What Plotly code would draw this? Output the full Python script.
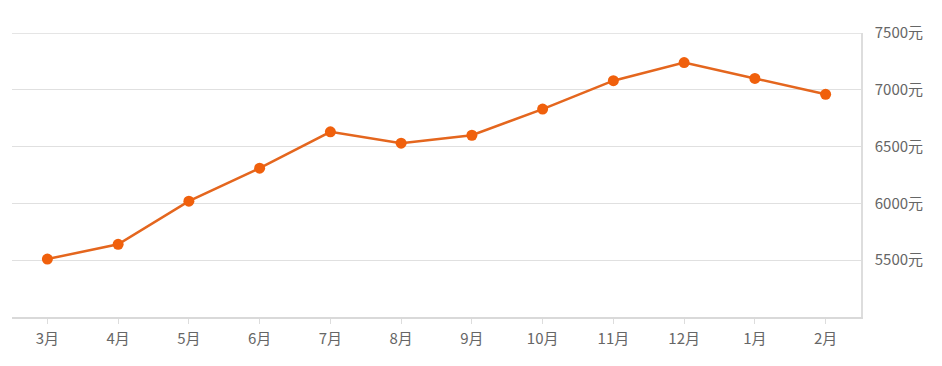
import plotly.graph_objects as go

months = ["3月", "4月", "5月", "6月", "7月", "8月", "9月", "10月", "11月", "12月", "1月", "2月"]
prices = [5510, 5640, 6020, 6310, 6630, 6530, 6600, 6830, 7080, 7240, 7100, 6960]
y_ticks = [5500, 6000, 6500, 7000, 7500]
y_labels = [f"{v}元" for v in y_ticks]

fig = go.Figure()
fig.add_trace(go.Scatter(
    x=months, y=prices, mode="lines+markers",
    line=dict(color="#e4661e", width=2.5),
    marker=dict(color="#f0600c", size=11),
    hoverinfo="x+y",
))

# top gridline at the range edge (7500)
fig.add_shape(type="line", xref="paper", x0=0, x1=1, yref="y", y0=y_ticks[-1], y1=y_ticks[-1],
              line=dict(color="#dcdcdc", width=1.5), layer="below")

font_family = "Noto Sans CJK SC, Noto Sans, sans-serif"
fig.update_layout(
    width=934, height=358,
    margin=dict(l=4, r=81, t=25, b=49),
    paper_bgcolor="white", plot_bgcolor="white",
    showlegend=False,
    font=dict(family=font_family, size=15, color="#666666"),
    xaxis=dict(
        type="category", range=[-0.5, 11.5],
        showgrid=False, zeroline=False,
        showline=True, linecolor="#d9d9d9", linewidth=2,
        ticks="outside", ticklen=5, tickcolor="#dddddd", tickwidth=1,
        ticklabelstandoff=2,
        tickfont=dict(size=15, color="#666666"),
        fixedrange=True,
    ),
    yaxis=dict(
        side="right", range=[5000, 7500],
        tickmode="array", tickvals=y_ticks, ticktext=y_labels,
        showgrid=True, gridcolor="#e0e0e0", gridwidth=1,
        zeroline=False,
        showline=True, linecolor="#dddddd", linewidth=1.5,
        ticks="", ticklabelstandoff=9,
        tickfont=dict(size=15, color="#666666"),
        fixedrange=True,
    ),
)

fig.write_html("out.html")
